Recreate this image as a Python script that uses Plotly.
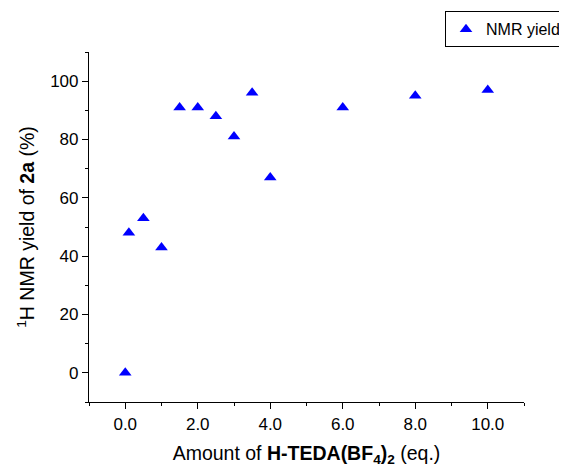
import plotly.graph_objects as go

amount_eq = [0.0, 0.1, 0.5, 1.0, 1.5, 2.0, 2.5, 3.0, 3.5, 4.0, 6.0, 8.0, 10.0]
nmr_yield = [0, 48, 53, 43, 91, 91, 88, 81, 96, 67, 91, 95, 97]
x_tickvals = [0, 2, 4, 6, 8, 10]
y_tickvals = [0, 20, 40, 60, 80, 100]

FONT = "Liberation Sans, Arial, sans-serif"

fig = go.Figure()
fig.add_trace(go.Scatter(
    x=amount_eq, y=nmr_yield, mode="markers", name="NMR yield",
    marker=dict(symbol="triangle-up", size=11, color="#0000FF",
                line=dict(width=0)),
))

fig.update_layout(
    width=559, height=459,
    margin=dict(l=81, r=43, t=44, b=65, autoexpand=False),
    paper_bgcolor="white", plot_bgcolor="white",
    font=dict(family=FONT, size=17, color="black"),
    showlegend=True,
    legend=dict(x=0.8184, y=1.1164, xanchor="left", yanchor="top",
                bordercolor="black", borderwidth=1, bgcolor="white",
                font=dict(family=FONT, size=16), itemwidth=30,
                tracegroupgap=0),
    xaxis=dict(
        range=[-1, 11], tickvals=x_tickvals, tickformat=".1f",
        showline=True, linecolor="black", linewidth=1.2,
        ticks="outside", ticklen=6, tickwidth=1.2, tickcolor="black",
        minor=dict(dtick=1, tick0=1, ticks="outside", ticklen=3,
                   tickwidth=1.2, tickcolor="black"),
        showgrid=False, zeroline=False,
        title=dict(text="Amount of <b>H-TEDA(BF<sub>4</sub>)<sub>2</sub></b> (eq.)",
                   font=dict(size=19.5), standoff=13),
    ),
    yaxis=dict(
        range=[-10, 110], tickvals=y_tickvals,
        showline=True, linecolor="black", linewidth=1.2,
        ticks="outside", ticklen=6, tickwidth=1.2, tickcolor="black",
        minor=dict(dtick=10, tick0=10, ticks="outside", ticklen=3,
                   tickwidth=1.2, tickcolor="black"),
        showgrid=False, zeroline=False,
        title=dict(text="<sup>1</sup>H NMR yield of <b>2a</b> (%)",
                   font=dict(size=19.5), standoff=10),
    ),
)

fig.write_html("out.html")
